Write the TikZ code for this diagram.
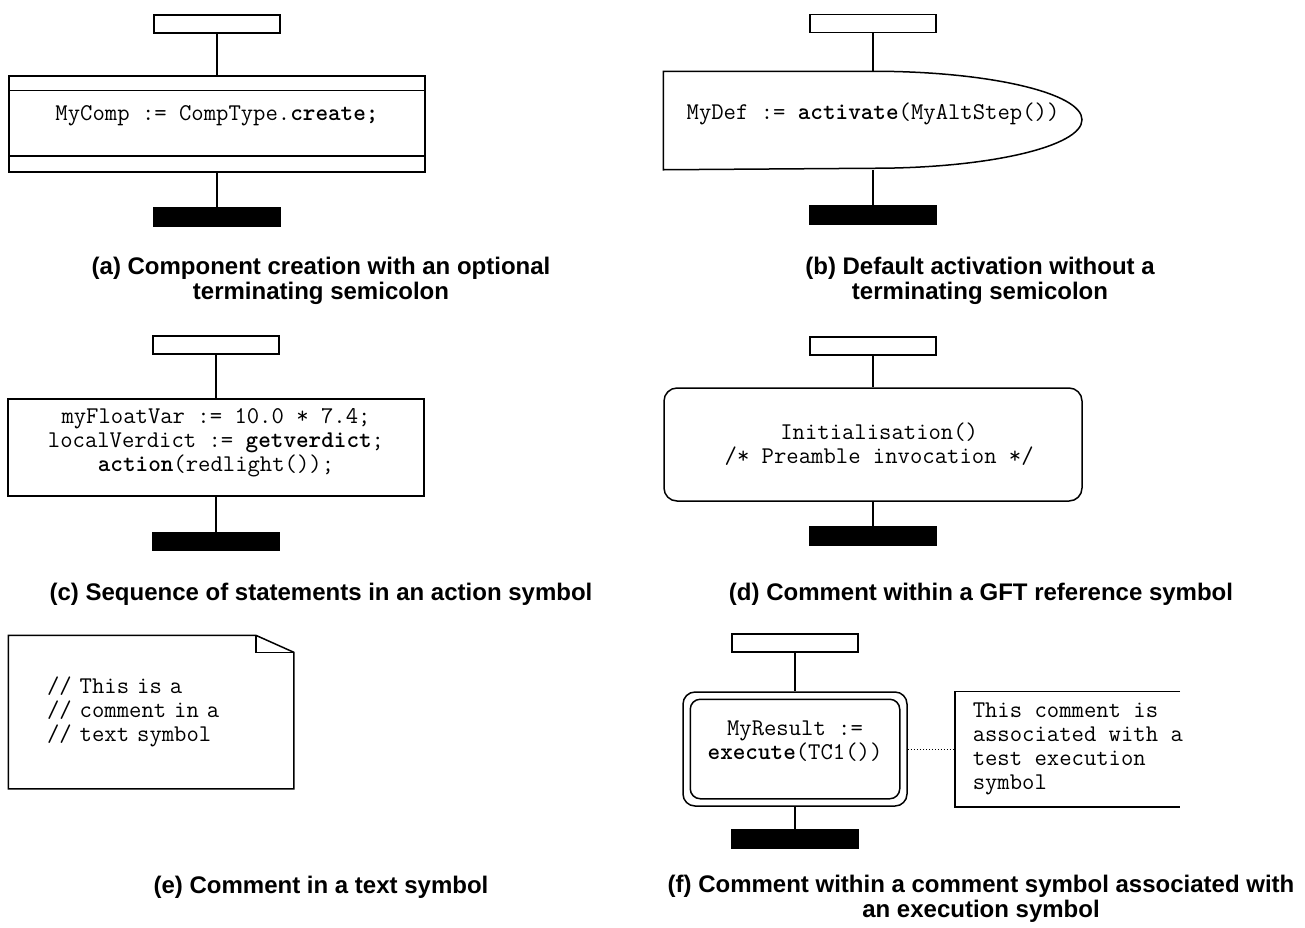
\documentclass[tikz,border=0pt]{standalone}
\usepackage{fontspec}
\setmainfont{Liberation Sans}
\usetikzlibrary{positioning,calc}

\begin{document}
\begin{tikzpicture}[
  x=0.5pt, y=-0.5pt,
  line width=0.75pt,
  code/.style={font=\fontsize{12}{12}\selectfont\ttfamily, align=center, inner sep=0pt},
  startbox/.style={draw, minimum width=63pt, minimum height=9pt, inner sep=0pt},
  endbar/.style={draw, fill=black, minimum width=63pt, minimum height=9pt, inner sep=0pt},
  createbox/.style={code, draw, minimum width=208pt, minimum height=48pt},
  defbox/.style={code, minimum width=209pt, minimum height=48.5pt},
  actionbox/.style={code, draw, minimum width=208pt, minimum height=48.5pt},
  refbox/.style={code, draw, rounded corners=6.5pt, minimum width=209pt, minimum height=56.5pt},
  textsym/.style={code, align=left, text width=104pt, inner xsep=19pt, minimum height=76pt},
  execbox/.style={code, draw, rounded corners=6pt, minimum width=112pt, minimum height=57pt},
  combox/.style={code, align=left, inner xsep=8.5pt, minimum height=57pt},
  caption/.style={font=\fontsize{12}{12.5}\selectfont\bfseries, align=center, inner sep=0pt},
  flow/.style={draw},
  assoc/.style={draw, line width=0.5pt, dash pattern=on 0.5pt off 1pt},
]
\useasboundingbox (0,0) rectangle (1305,927);

% (a) component creation
\node[startbox] (atop) at (217,24) {};
\node[createbox, text depth=10.5pt] (acreate) at (217,124) {MyComp := CompType.\textbf{create;}};
\node[endbar] (abar) at (217,217) {};
\draw ([yshift=-7.5pt]acreate.north west) -- ([yshift=-7.5pt]acreate.north east);
\draw ([yshift=8.5pt]acreate.south west) -- ([yshift=8.5pt]acreate.south east);
\node[caption] (acap) at (321,281) {(a) Component creation with an optional\\ terminating semicolon};

% (b) default activation
\node[startbox] (btop) at (873,23.5) {};
\node[defbox, text depth=9pt] (bact) at (873,120.5) {MyDef := \textbf{activate}(MyAltStep())};
\node[endbar] (bbar) at (873,215) {};
\draw (bact.north west) -- (bact.north)
  arc[start angle=90, end angle=-90, x radius=104.5pt, y radius=24.25pt]
  -- (bact.south west) -- cycle;
\node[caption] (bcap) at (980,281) {(b) Default activation without a\\ terminating semicolon};

% (c) action symbol
\node[startbox] (ctop) at (216,345) {};
\node[actionbox] (cact) at (216,447.5) {myFloatVar := 10.0 * 7.4;\\ localVerdict := \textbf{getverdict};\\ \textbf{action}(redlight());\rule[-7.5pt]{0pt}{0pt}};
\node[endbar] (cbar) at (216,541.5) {};
\node[caption] (ccap) at (321,594) {(c) Sequence of statements in an action symbol};

% (d) GFT reference symbol
\node[startbox] (dtop) at (873,346) {};
\node[refbox] (dref) at (873,444.5) {\ Initialisation()\\ \ /* Preamble invocation */};
\node[endbar] (dbar) at (873,536) {};
\node[caption] (dcap) at (981,594) {(d) Comment within a GFT reference symbol};

% (e) text symbol
\node[textsym] (etext) at (151,712) {// This is a\\ // comment in a\\ // text symbol};
\draw (etext.north west) -- ([xshift=-19pt]etext.north east) -- ([yshift=-8.5pt]etext.north east)
  -- (etext.south east) -- (etext.south west) -- cycle;
\draw ([xshift=-19pt]etext.north east) -- ([xshift=-19pt,yshift=-8.5pt]etext.north east)
  -- ([yshift=-8.5pt]etext.north east);
\node[caption] (ecap) at (321,887) {(e) Comment in a text symbol};

% (f) execution symbol with comment
\node[startbox] (ftop) at (795,643) {};
\node[execbox] (fexec) at (795,749) {MyResult :=\\ \textbf{execute}(TC1())\rule[-8.5pt]{0pt}{0pt}};
\node[endbar] (fbar) at (795,839) {};
\draw[rounded corners=5pt] ([shift={(4pt,-4pt)}]fexec.north west) rectangle ([shift={(-4pt,4pt)}]fexec.south east);
\node[combox, anchor=west] (fcom) at (955,749) {This comment is\\ associated with a\\ test execution\\ symbol};
\draw ([xshift=112.5pt]fcom.north west) -- (fcom.north west) -- (fcom.south west) -- ([xshift=112.5pt]fcom.south west);
\draw[assoc] (fexec) -- (fcom);
\node[caption] (fcap) at (981,899) {(f) Comment within a comment symbol associated with\\ an execution symbol};

% flow lines
\foreach \u/\v in {atop/acreate, acreate/abar, btop/bact, bact/bbar, ctop/cact, cact/cbar,
                   dtop/dref, dref/dbar, ftop/fexec, fexec/fbar}
  \draw[flow] (\u) -- (\v);
\end{tikzpicture}
\end{document}
